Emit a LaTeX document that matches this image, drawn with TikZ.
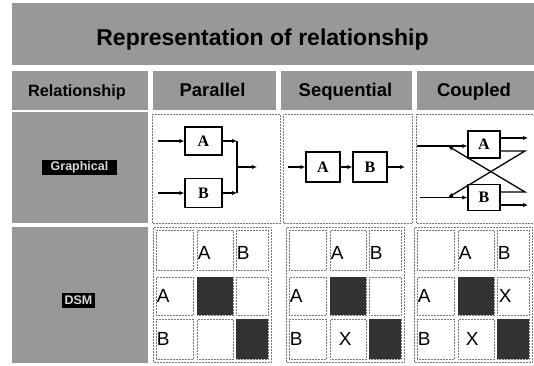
\documentclass[tikz,border=0pt]{standalone}
\usepackage{fontspec}
\setmainfont{Liberation Sans}
\newfontfamily\boxfont{Liberation Serif}
\usetikzlibrary{arrows.meta,positioning}
\definecolor{scangray}{RGB}{152,152,152}
\definecolor{cellgray}{RGB}{120,120,120}
\definecolor{darkfill}{RGB}{50,50,50}

\begin{document}
\begin{tikzpicture}[
      x=1pt, y=-1pt,
      band/.style={fill=scangray, draw=none},
      headtext/.style={font=\bfseries\fontsize{18.5}{20}\selectfont, anchor=base},
      tag/.style={fill=black, text=gray!30, font=\bfseries\fontsize{12.5}{13}\selectfont, inner sep=0pt},
      block/.style={rectangle, draw=black, line width=1.4pt, fill=white, font=\boxfont\bfseries\fontsize{16}{17}\selectfont, inner sep=0pt},
      arrow/.style={-{Latex[length=5pt,width=4.5pt]}, line width=1.3pt},
      wire/.style={line width=1.3pt},
      cellframe/.style={draw=cellgray, densely dotted, line width=0.5pt},
      dsmcell/.style={rectangle, cellframe, inner sep=0pt},
      dsmtext/.style={font=\fontsize{19}{20}\selectfont, anchor=west, inner sep=1pt},
    ]
    \useasboundingbox (0,0) rectangle (534,365);
    % title band and header row
    \fill [band] (12,3) rectangle (534,65);
    \node [font=\bfseries\fontsize{23}{24}\selectfont, anchor=base] (title) at (262.5,45) {Representation of relationship};
    \foreach \xa/\xb in {12/148, 153/276, 281/412, 417/534}
      \fill [band] (\xa,71) rectangle (\xb,110);
    \node [headtext, font=\bfseries\fontsize{16.3}{18}\selectfont] (hrel) at (77,96) {Relationship};
    \node [headtext] (hpar) at (212.5,96) {Parallel};
    \node [headtext] (hseq) at (345.5,96) {Sequential};
    \node [headtext] (hcou) at (474,96) {Coupled};
    % left column
    \fill [band] (12,112) rectangle (148,223);
    \fill [band] (12,227) rectangle (148,363);
    \node [tag, minimum width=75, minimum height=15] (lgraph) at (79.5,167.5) {Graphical};
    \node [tag, minimum width=33, minimum height=15] (ldsm) at (78.5,300) {DSM};
    \foreach \xa/\xb in {152/280, 283/412, 416/534}
      \draw [cellframe] (\xa,114) rectangle (\xb,223);

    % parallel
    \node [block, minimum width=37, minimum height=28] (pa) at (203.5,141) {A};
    \node [block, minimum width=37, minimum height=29] (pb) at (203.5,193) {B};
    \coordinate (pina) at (158,141);
    \coordinate (pinb) at (158,193);
    \coordinate (pja) at (237,141);
    \coordinate (pjb) at (237,193);
    \coordinate (pjm) at (237,167);
    \coordinate (pout) at (257,167);
    \draw [arrow] (pina) -- (pa);
    \draw [arrow] (pinb) -- (pb);
    \draw [arrow] (pa) -- (pja);
    \draw [arrow] (pb) -- (pjb);
    \draw [wire] (pja) -- (pjb);
    \draw [arrow] (pjm) -- (pout);

    % sequential
    \node [block, minimum width=34, minimum height=30] (sa) at (323,167) {A};
    \node [block, minimum width=34, minimum height=30] (sb) at (370,167) {B};
    \coordinate (sin) at (288,167);
    \coordinate (sout) at (405,167);
    \draw [arrow] (sin) -- (sa);
    \draw [arrow] (sa) -- (sb);
    \draw [arrow] (sb) -- (sout);

    % coupled
    \node [block, minimum width=32, minimum height=27] (ca) at (484,144.5) {A};
    \node [block, minimum width=32, minimum height=26] (cb) at (484,197.5) {B};
    \coordinate (cina) at (417,146);
    \coordinate (cinb) at (420,197.5);
    \coordinate (caja) at (448,146);
    \coordinate (cbja) at (448,197.5);
    \coordinate (caup) at (528,138);
    \coordinate (cadn) at (525,151);
    \coordinate (cbup) at (525,192);
    \coordinate (cbdn) at (528,205);
    \draw [arrow] (cina) -- (cina -| ca.west);
    \draw [arrow] (cinb) -- (cb);
    \draw [arrow] (ca.east |- caup) -- (caup);
    \draw [arrow] (ca.east |- cadn) -- (cadn) -- (cbja);
    \draw [arrow] (cb.east |- cbup) -- (cbup) -- (caja);
    \draw [arrow] (cb.east |- cbdn) -- (cbdn);

    % DSM matrices
    \foreach \mx/\mn in {153/p, 286/s, 414/c} {
      \draw [cellframe] (\mx,227.5) rectangle (\mx+118,362);
      \foreach \cx/\cw/\col in {21.5/37/1, 62/36/2, 99/32/3}
        \foreach \cy/\ch/\row in {250/40/0, 296/38/1, 339/40/2}
          \node [dsmcell, minimum width=\cw pt, minimum height=\ch pt] (\mn\row\col) at (\mx+\cx,\cy) {};
      \fill [darkfill] (\mn12.south west) rectangle (\mn12.north east);
      \fill [darkfill] (\mn23.south west) rectangle (\mn23.north east);
      \node [dsmtext, yshift=-3pt] (\mn-ha) at (\mn02.west) {A};
      \node [dsmtext, yshift=-3pt] (\mn-hb) at (\mn03.west) {B};
      \node [dsmtext] (\mn-ra) at (\mn11.west) {A};
      \node [dsmtext] (\mn-rb) at (\mn21.west) {B};
    }
    \node [dsmtext, xshift=8pt] (sxba) at (s22.west) {X};
    \node [dsmtext, xshift=7pt] (cxba) at (c22.west) {X};
    \node [dsmtext, xshift=1pt] (cxab) at (c13.west) {X};
\end{tikzpicture}
\end{document}
